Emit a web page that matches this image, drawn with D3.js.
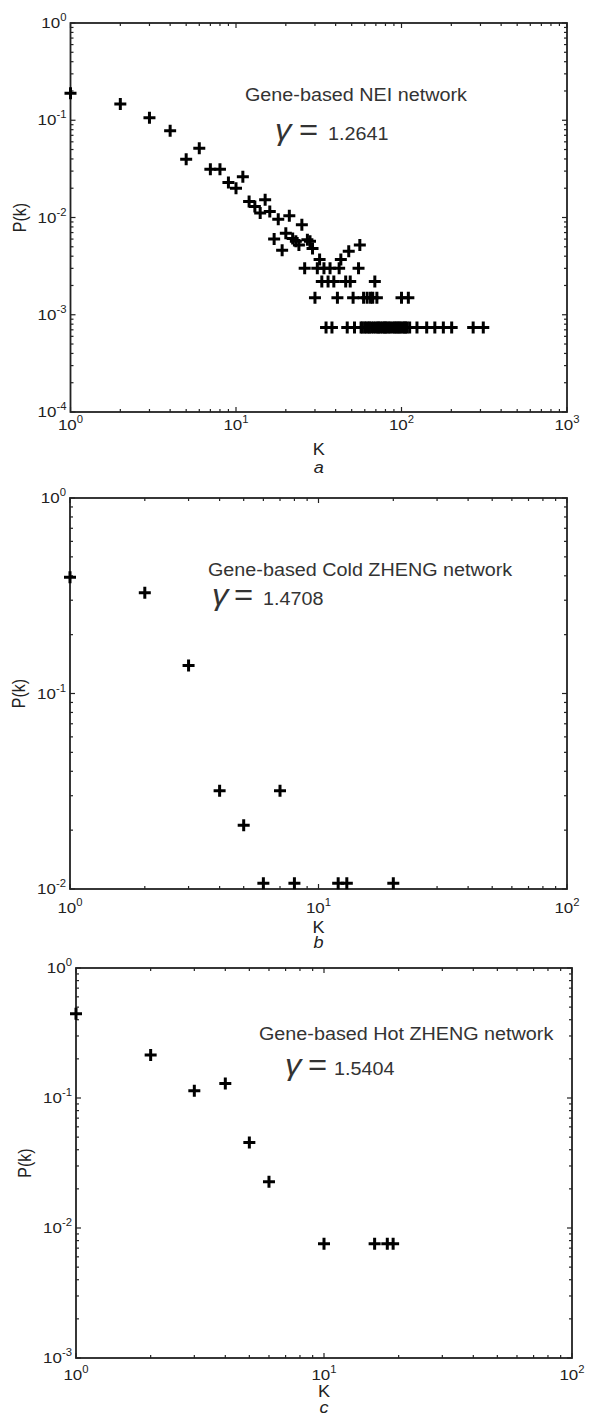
<!DOCTYPE html>
<html>
<head>
<meta charset="utf-8">
<script src="https://cdn.jsdelivr.net/npm/d3@7"></script>
<style>
  html, body { margin: 0; padding: 0; background: #fff; }
  svg { display: block; }
  text { font-family: "Liberation Sans", Arial, sans-serif; }
</style>
</head>
<body>
<svg id="chart" width="589" height="1419"></svg>
<script>
// ---- Panel a: Gene-based NEI network ----
const kA = [1,2,3,4,5,6,7,8,9,10,11,12,13,14,15,16,17,18,19,20,21,22,23,24,25,26,27,28,29,30,
  31,32,33,34,35,36,37,38,39,41,42,43,46,47,48,49,51,52,55,56,57,58,59,60,61,62,63,64,65,66,67,68,69,70,
  71,72,73,75,77,79,80,82,84,86,89,91,93,95,97,99,100,102,104,106,108,110,112,124,142,159,179,201,271,312];
const pA = [0.19,0.147,0.106,0.078,0.0397,0.0515,0.0313,0.0313,0.0229,0.020,0.0263,0.0146,0.0130,0.0111,0.0152,0.0115,0.0060,0.0096,0.0046,0.0069,
  0.0104,0.0061,0.0057,0.0052,0.0084,0.0030,0.0059,0.0057,0.0048,0.0015,
  0.0030,0.0037,0.0022,0.0030,0.00074,0.0022,0.0030,0.00074,0.0022,0.0015,0.0030,0.0037,0.0022,0.00074,0.0045,0.0022,0.0015,0.00074,0.0030,0.0052,
  0.00074,0.00074,0.0015,0.00074,0.00074,0.0015,0.00074,0.00074,0.0015,0.00074,0.0015,0.00074,0.0022,0.00074,
  0.0015,0.00074,0.00074,0.00074,0.00074,0.00074,0.00074,0.00074,0.00074,0.00074,0.00074,0.00074,0.00074,0.00074,0.00074,0.00074,
  0.0015,0.00074,0.00074,0.00074,0.00074,0.0015,0.00074,0.00074,0.00074,0.00074,0.00074,0.00074,0.00074,0.00074];

// ---- Panel b: Gene-based Cold ZHENG network ----
const kB = [1,2,3,4,5,6,7,8,12,13,20];
const pB = [0.393,0.328,0.139,0.0318,0.0212,0.0107,0.0318,0.0107,0.0107,0.0107,0.0107];

// ---- Panel c: Gene-based Hot ZHENG network ----
const kC = [1,2,3,4,5,6,10,16,18,19];
const pC = [0.445,0.214,0.1135,0.129,0.0454,0.0227,0.00757,0.00757,0.00757,0.00757];

const titles = ["Gene-based NEI network", "Gene-based Cold ZHENG network", "Gene-based Hot ZHENG network"];
const gammas = ["1.2641", "1.4708", "1.5404"];
const letters = ["a", "b", "c"];
const xDomains = [[1, 1000], [1, 100], [1, 100]];
const yDomains = [[1e-4, 1], [1e-2, 1], [1e-3, 1]];

// layout (pixels)
const layout = [
  {l: 70.5, r: 567, t: 23,  b: 412,  tickOff: 18, kOff: 43, letOff: 61,
   title: [245, 101], gam: [275, 299, 328, 140]},
  {l: 70,   r: 567, t: 498, b: 889,  tickOff: 24, kOff: 44, letOff: 59,
   title: [208, 576], gam: [212, 234, 263, 605]},
  {l: 76,   r: 572, t: 968, b: 1358, tickOff: 22, kOff: 39, letOff: 55,
   title: [259, 1040], gam: [285, 308, 334, 1075]}
];

const data = [
  kA.map((k, i) => ({k, p: pA[i]})),
  kB.map((k, i) => ({k, p: pB[i]})),
  kC.map((k, i) => ({k, p: pC[i]}))
];

const svg = d3.select("#chart");
svg.append("rect").attr("width", 589).attr("height", 1419).attr("fill", "#fff");

const SX = 1.13; // horizontal stretch of the original figure's text
const axisColor = "#222";

function logTicks(domain) {
  const lo = Math.round(Math.log10(domain[0])), hi = Math.round(Math.log10(domain[1]));
  const major = [], minor = [];
  for (let e = lo; e <= hi; e++) {
    major.push({v: Math.pow(10, e), e});
    if (e < hi) for (let m = 2; m <= 9; m++) minor.push(m * Math.pow(10, e));
  }
  return {major, minor};
}

layout.forEach((L, i) => {
  const x = d3.scaleLog().domain(xDomains[i]).range([L.l, L.r]);
  const y = d3.scaleLog().domain(yDomains[i]).range([L.b, L.t]);
  const g = svg.append("g");

  const xt = logTicks(xDomains[i]);
  const yt = logTicks(yDomains[i]);
  const tk = g.append("g").attr("stroke", axisColor).attr("stroke-width", 1.2);
  const majL = 5, minL = 3;
  xt.major.forEach(t => {
    tk.append("line").attr("x1", x(t.v)).attr("x2", x(t.v)).attr("y1", L.b).attr("y2", L.b - majL);
    tk.append("line").attr("x1", x(t.v)).attr("x2", x(t.v)).attr("y1", L.t).attr("y2", L.t + majL);
  });
  xt.minor.forEach(v => {
    tk.append("line").attr("x1", x(v)).attr("x2", x(v)).attr("y1", L.b).attr("y2", L.b - minL);
    tk.append("line").attr("x1", x(v)).attr("x2", x(v)).attr("y1", L.t).attr("y2", L.t + minL);
  });
  yt.major.forEach(t => {
    tk.append("line").attr("y1", y(t.v)).attr("y2", y(t.v)).attr("x1", L.l).attr("x2", L.l + majL);
    tk.append("line").attr("y1", y(t.v)).attr("y2", y(t.v)).attr("x1", L.r).attr("x2", L.r - majL);
  });
  yt.minor.forEach(v => {
    tk.append("line").attr("y1", y(v)).attr("y2", y(v)).attr("x1", L.l).attr("x2", L.l + minL);
    tk.append("line").attr("y1", y(v)).attr("y2", y(v)).attr("x1", L.r).attr("x2", L.r - minL);
  });

  g.append("rect")
    .attr("x", L.l).attr("y", L.t)
    .attr("width", L.r - L.l).attr("height", L.b - L.t)
    .attr("fill", "none").attr("stroke", axisColor).attr("stroke-width", 1.8);

  const lab = g.append("g").attr("fill", "#222").attr("font-size", 15);
  xt.major.forEach(t => {
    const tx = lab.append("text")
      .attr("transform", `translate(${x(t.v)},${L.b + L.tickOff}) scale(${SX},1)`)
      .attr("text-anchor", "middle");
    tx.append("tspan").text("10");
    tx.append("tspan").attr("dy", -7).attr("font-size", 10).text(String(t.e));
  });
  yt.major.forEach(t => {
    const tx = lab.append("text")
      .attr("transform", `translate(${L.l - 4},${y(t.v) + 5}) scale(${SX},1)`)
      .attr("text-anchor", "end");
    tx.append("tspan").text("10");
    tx.append("tspan").attr("dy", -7).attr("font-size", 10).text(String(t.e));
  });

  g.append("text")
    .attr("transform", `translate(${L.l - 45},${(L.t + L.b) / 2}) rotate(-90) scale(1,${SX})`)
    .attr("text-anchor", "middle").attr("font-size", 16).attr("fill", "#222")
    .text("P(k)");
  g.append("text")
    .attr("transform", `translate(${(L.l + L.r) / 2},${L.b + L.kOff}) scale(${SX},1)`)
    .attr("text-anchor", "middle").attr("font-size", 16).attr("fill", "#222")
    .text("K");
  g.append("text")
    .attr("transform", `translate(${(L.l + L.r) / 2},${L.b + L.letOff}) scale(${SX},1)`)
    .attr("text-anchor", "middle").attr("font-size", 16).attr("font-style", "italic").attr("fill", "#222")
    .text(letters[i]);

  g.append("text")
    .attr("transform", `translate(${L.title[0]},${L.title[1]}) scale(${SX},1)`)
    .attr("font-size", 17.5).attr("fill", "#333")
    .text(titles[i]);
  g.append("text")
    .attr("transform", `translate(${L.gam[0]},${L.gam[3]}) scale(${SX},1)`)
    .attr("font-family", "'Liberation Serif', 'Times New Roman', serif")
    .attr("font-style", "italic").attr("font-size", 29).attr("fill", "#333")
    .text("\u03B3");
  g.append("text")
    .attr("transform", `translate(${L.gam[1]},${L.gam[3]}) scale(${SX},1)`)
    .attr("font-family", "'Liberation Serif', 'Times New Roman', serif")
    .attr("font-size", 29).attr("fill", "#333")
    .text("=");
  g.append("text")
    .attr("transform", `translate(${L.gam[2]},${L.gam[3]}) scale(${SX},1)`)
    .attr("font-size", 17.5).attr("fill", "#333")
    .text(gammas[i]);

  g.append("g").selectAll("path").data(data[i]).join("path")
    .attr("transform", d => `translate(${x(d.k)},${y(d.p)})`)
    .attr("d", "M-6,0H6M0,-6V6")
    .attr("stroke", "#000").attr("stroke-width", 3).attr("fill", "none");
});
</script>
</body>
</html>
